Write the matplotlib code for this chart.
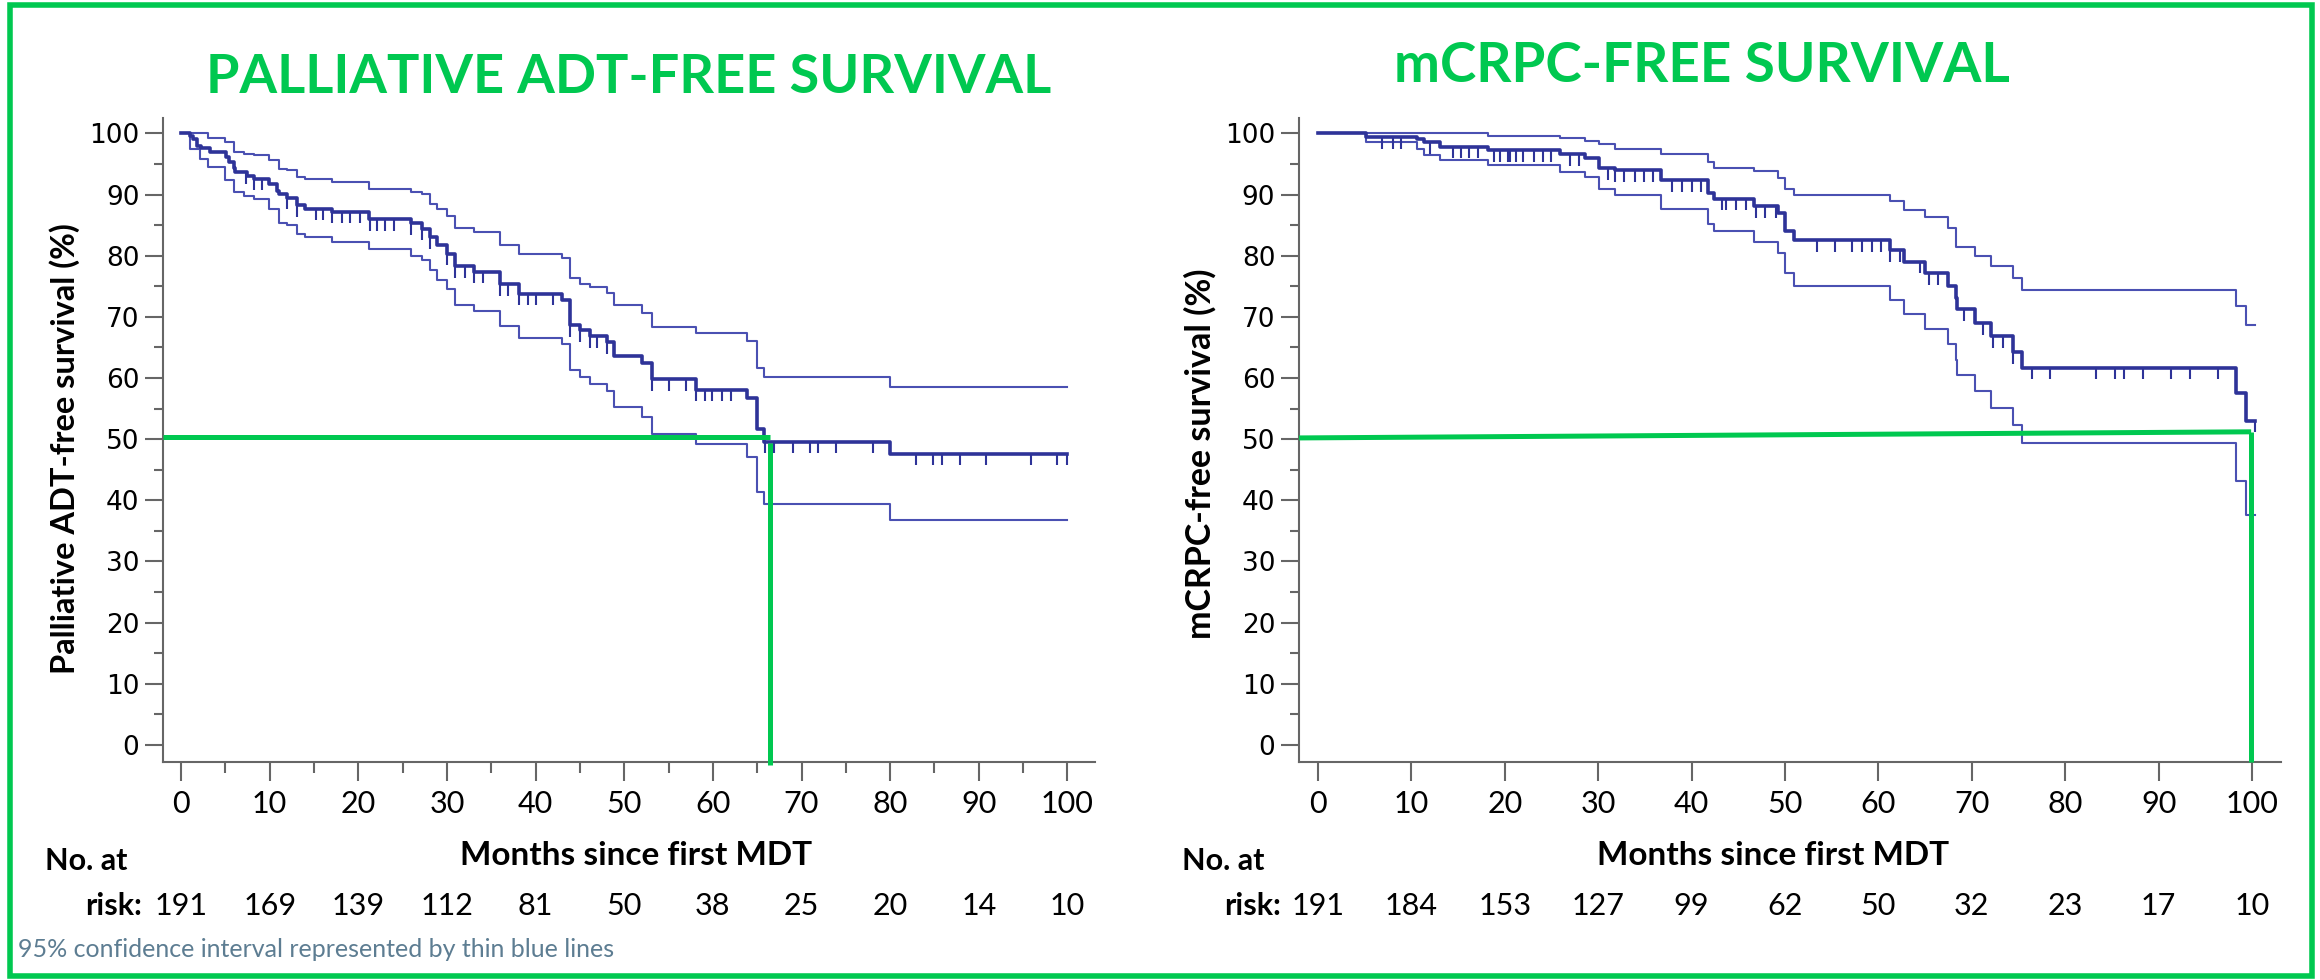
import numpy as np
import matplotlib
matplotlib.use("Agg")
import matplotlib.pyplot as plt
from matplotlib.patches import Rectangle
from matplotlib.ticker import MultipleLocator
from matplotlib.transforms import blended_transform_factory

plt.rcParams['font.family'] = ['Lato', 'DejaVu Sans']

GREEN = "#00C850"
BLUE = "#2E3398"
BLUE_CI = "#4A50B2"
AXIS_GREY = "#666666"

# ---- palliative ADT-free survival (months, %) ----
adt_t = [0, 1.0, 1.4, 1.8, 2.2, 3.3, 5.1, 5.4, 5.95, 6.1, 7.45, 8.2, 9.9, 10.8, 11.0, 12.0,
         13.1, 14.0, 17.0, 21.2, 26.0, 27.2, 28.1, 28.9, 30.0, 30.9, 33.0, 36.0, 38.1, 43.0,
         43.9, 45.0, 46.1, 48.0, 48.9, 52.0, 53.1, 58.1, 63.9, 65.0, 65.8, 80.0, 100.0]
adt_s = [100, 99.5, 99.0, 98.0, 97.6, 97.0, 96.1, 95.3, 94.3, 93.7, 93.1, 92.6, 91.8, 90.6, 90.1,
         89.5, 88.3, 87.7, 87.2, 86.0, 85.3, 84.4, 83.0, 81.8, 80.3, 78.3, 77.4, 75.3, 73.8, 72.8,
         68.6, 67.8, 66.8, 65.9, 63.6, 62.4, 59.8, 58.1, 56.7, 51.7, 49.6, 47.6, 47.6]

adt_hi_t = [0, 3.1, 5.0, 5.95, 7.1, 8.2, 9.9, 11.0, 12.0, 13.1, 14.0, 17.0, 21.2, 26.0, 27.2,
            28.1, 28.9, 30.0, 30.9, 33.0, 36.0, 38.1, 43.0, 43.9, 45.0, 46.1, 48.0, 48.9, 52.0,
            53.1, 58.1, 63.9, 65.0, 65.8, 80.0, 100.0]
adt_hi_s = [100, 99.2, 98.6, 97.0, 96.6, 96.4, 95.6, 94.2, 94.0, 92.8, 92.6, 92.0, 90.9, 90.4,
            90.1, 88.5, 87.7, 86.5, 84.6, 83.9, 81.8, 80.2, 79.7, 76.4, 75.4, 74.8, 73.9, 72.0,
            70.6, 68.4, 67.4, 66.1, 61.6, 60.1, 58.5, 58.5]

adt_lo_t = [0, 1.0, 2.1, 3.1, 5.0, 5.95, 7.1, 8.2, 9.9, 11.0, 12.0, 13.1, 14.0, 17.0, 21.2, 26.0,
            27.2, 28.1, 28.9, 30.0, 30.9, 33.0, 36.0, 38.1, 43.0, 43.9, 45.0, 46.1, 48.0, 48.9,
            52.0, 53.1, 58.1, 63.9, 65.0, 65.8, 80.0, 100.0]
adt_lo_s = [100, 97.4, 95.8, 94.5, 92.3, 90.4, 89.7, 89.3, 87.7, 85.4, 85.0, 83.6, 83.0, 82.3,
            81.1, 80.0, 79.3, 77.7, 76.1, 74.6, 72.0, 71.0, 68.5, 66.5, 65.6, 61.3, 60.1, 59.0,
            57.8, 55.3, 53.7, 50.8, 49.2, 47.1, 41.3, 39.4, 36.7, 36.7]

adt_censor = [7.3, 8.2, 9.1, 12.0, 13.1, 15.2, 16.0, 17.0, 18.2, 19.1, 20.2, 21.3, 22.1, 23.0,
              24.0, 26.0, 27.2, 28.1, 30.0, 30.9, 32.0, 33.0, 34.1, 36.0, 36.9, 38.1, 39.2, 40.1,
              42.0, 43.9, 45.0, 46.1, 46.9, 48.0, 53.1, 55.0, 57.0, 58.1, 59.1, 59.9, 61.0, 62.0,
              65.9, 66.9, 69.0, 71.0, 71.9, 73.9, 78.1, 82.9, 84.8, 85.9, 87.9, 90.8, 95.9, 98.8,
              99.9]
adt_risk = [191, 169, 139, 112, 81, 50, 38, 25, 20, 14, 10]
adt_median = 66.4
adt_median_level = 50.4

# ---- mCRPC-free survival (months, %) ----
crpc_t = [0, 5.1, 10.6, 11.4, 13.1, 18.2, 25.9, 28.6, 30.1, 31.8, 36.7, 41.8, 42.4, 46.7, 49.2,
          50.0, 51.0, 61.2, 62.7, 65.0, 67.4, 68.3, 68.4, 70.3, 72.1, 74.4, 75.4, 98.3, 99.3, 100.3]
crpc_s = [100, 99.4, 99.1, 98.6, 97.8, 97.25, 96.6, 96.0, 94.3, 94.0, 92.3, 90.2, 89.3, 88.1,
          86.9, 84.0, 82.5, 80.9, 79.0, 77.1, 75.0, 73.1, 71.3, 69.0, 66.8, 64.2, 61.7, 57.5,
          53.0, 53.0]

crpc_hi_t = [0, 18.2, 25.9, 28.6, 30.1, 31.8, 36.7, 41.8, 42.4, 46.7, 49.2, 50.0, 51.0, 61.2,
             62.7, 65.0, 67.4, 68.3, 70.3, 72.1, 74.4, 75.4, 98.3, 99.3, 100.3]
crpc_hi_s = [100, 99.6, 99.3, 98.8, 98.2, 97.5, 96.6, 95.3, 94.3, 93.8, 92.7, 90.9, 89.9, 89.0,
             87.5, 86.3, 84.6, 81.5, 79.9, 78.3, 76.4, 74.4, 71.8, 68.7, 68.7]

crpc_lo_t = [0, 5.1, 10.6, 11.4, 13.1, 18.2, 25.9, 28.6, 30.1, 31.8, 36.7, 41.8, 42.4, 46.7,
             49.2, 50.0, 51.0, 61.2, 62.7, 65.0, 67.4, 68.3, 68.4, 70.3, 72.1, 74.4, 75.4, 98.3,
             99.3, 100.3]
crpc_lo_s = [100, 98.6, 97.5, 96.5, 95.6, 94.9, 93.7, 92.9, 90.9, 89.9, 87.6, 85.2, 84.0, 82.3,
             80.5, 77.2, 75.0, 72.8, 70.4, 68.0, 65.5, 63.0, 60.5, 57.9, 55.1, 52.3, 49.4, 43.1,
             37.6, 37.6]

crpc_censor = [6.9, 8.0, 8.9, 12.0, 14.5, 15.3, 16.2, 17.1, 18.8, 19.5, 20.3, 20.6, 21.2, 22.0,
               23.1, 24.1, 25.0, 27.0, 28.0, 31.0, 31.8, 32.8, 33.9, 34.9, 35.9, 37.9, 39.0,
               40.0, 41.0, 43.3, 43.7, 44.8, 45.8, 46.9, 47.9, 49.0, 53.4, 55.4, 57.2, 58.2,
               59.3, 60.3, 61.2, 62.3, 64.5, 65.4, 66.4, 69.2, 71.2, 72.3, 73.3, 74.4, 76.4,
               78.4, 83.3, 85.3, 86.3, 88.3, 91.3, 93.4, 96.3, 100.3]
crpc_risk = [191, 184, 153, 127, 99, 62, 50, 32, 23, 17, 10]
crpc_median = 99.9
crpc_median_level = (50.2, 51.2)

risk_times = list(range(0, 101, 10))


def draw_km(ax, t, s, lo_t, lo_s, hi_t, hi_s, censor):
    ax.step(lo_t, lo_s, where='post', color=BLUE_CI, lw=1.5, zorder=2)
    ax.step(hi_t, hi_s, where='post', color=BLUE_CI, lw=1.5, zorder=2)
    ax.step(t, s, where='post', color=BLUE, lw=2.6, zorder=3)
    t = np.asarray(t)
    s = np.asarray(s)
    idx = np.searchsorted(t, censor, side='right') - 1
    lvl = s[idx]
    ax.vlines(censor, lvl - 1.9, lvl, color=BLUE, lw=1.5, zorder=3)


def style_axes(ax, x_minor):
    ax.set_xlim(-2.03, 103.1)
    ax.set_ylim(-2.8, 102.5)
    for side in ['top', 'right']:
        ax.spines[side].set_visible(False)
    for side in ['left', 'bottom']:
        ax.spines[side].set_color(AXIS_GREY)
        ax.spines[side].set_linewidth(1.5)
    ax.set_xticks(range(0, 101, 10))
    ax.set_yticks(range(0, 101, 10))
    ax.yaxis.set_minor_locator(MultipleLocator(5))
    if x_minor:
        ax.xaxis.set_minor_locator(MultipleLocator(5))
    ax.tick_params(axis='y', which='major', length=13, width=1.5, color=AXIS_GREY,
                   labelsize=19, pad=4, labelfontfamily='DejaVu Sans')
    ax.tick_params(axis='y', which='minor', length=6.5, width=1.5, color=AXIS_GREY)
    ax.tick_params(axis='x', which='major', length=14, width=1.5, color=AXIS_GREY,
                   labelsize=22, pad=6)
    ax.tick_params(axis='x', which='minor', length=8, width=1.5, color=AXIS_GREY)


fig = plt.figure(figsize=(23.2, 9.8), dpi=100)

ax1 = fig.add_axes([0.07026, 0.2224, 0.4017, 0.6571])
ax2 = fig.add_axes([0.5599, 0.2224, 0.4233, 0.6571])

draw_km(ax1, adt_t, adt_s, adt_lo_t, adt_lo_s, adt_hi_t, adt_hi_s, adt_censor)
draw_km(ax2, crpc_t, crpc_s, crpc_lo_t, crpc_lo_s, crpc_hi_t, crpc_hi_s, crpc_censor)
style_axes(ax1, True)
style_axes(ax2, False)

# median survival guides
ax1.plot([-2.03, adt_median], [adt_median_level, adt_median_level], color=GREEN, lw=3.6,
         zorder=5, clip_on=False, solid_capstyle='butt')
ax1.plot([adt_median, adt_median], [adt_median_level - 1.0, -3.3], color=GREEN, lw=3.6,
         zorder=5, clip_on=False, solid_capstyle='butt')
ax2.plot([-2.03, crpc_median], list(crpc_median_level), color=GREEN, lw=3.6,
         zorder=5, clip_on=False, solid_capstyle='butt')
ax2.plot([crpc_median, crpc_median], [crpc_median_level[1], -2.8], color=GREEN, lw=3.6,
         zorder=5, clip_on=False, solid_capstyle='butt')

# titles and axis labels
fig.text(0.2711, 0.9051, "PALLIATIVE ADT-FREE SURVIVAL", color=GREEN, fontsize=39,
         fontweight='bold', ha='center', va='baseline')
fig.text(0.7336, 0.9163, "mCRPC-FREE SURVIVAL", color=GREEN, fontsize=39.5,
         fontweight='bold', ha='center', va='baseline')
fig.text(0.028, 0.542, "Palliative ADT-free survival (%)", rotation=90, fontsize=23.5,
         fontweight='bold', ha='center', va='center')
fig.text(0.5172, 0.537, "mCRPC-free survival (%)", rotation=90, fontsize=24.5,
         fontweight='bold', ha='center', va='center')

# number-at-risk table
for ax, risk, x_no, x_risk, x_months in [(ax1, adt_risk, 0.0194, 0.0612, 0.2741),
                                          (ax2, crpc_risk, 0.5095, 0.5522, 0.7642)]:
    fig.text(x_months, 0.1173, "Months since first MDT", fontsize=24, fontweight='bold',
             ha='center', va='baseline')
    fig.text(x_no, 0.1122, "No. at", fontsize=22, fontweight='bold', ha='left', va='baseline')
    fig.text(x_risk, 0.0663, "risk:", fontsize=22, fontweight='bold', ha='right',
             va='baseline')
    trans = blended_transform_factory(ax.transData, fig.transFigure)
    for tm, n in zip(risk_times, risk):
        ax.text(tm, 0.0663, str(n), transform=trans, fontsize=22, ha='center', va='baseline')

fig.text(0.0078, 0.0235, "95% confidence interval represented by thin blue lines",
         color="#5D7D92", fontsize=18, ha='left', va='baseline')

# green frame around the whole panel
fig.patches.append(Rectangle((10 / 2320, 4 / 980), 2302 / 2320, 971 / 980,
                             transform=fig.transFigure, fill=False, edgecolor=GREEN,
                             linewidth=4, zorder=10))

fig.savefig("out.png", dpi=100)
